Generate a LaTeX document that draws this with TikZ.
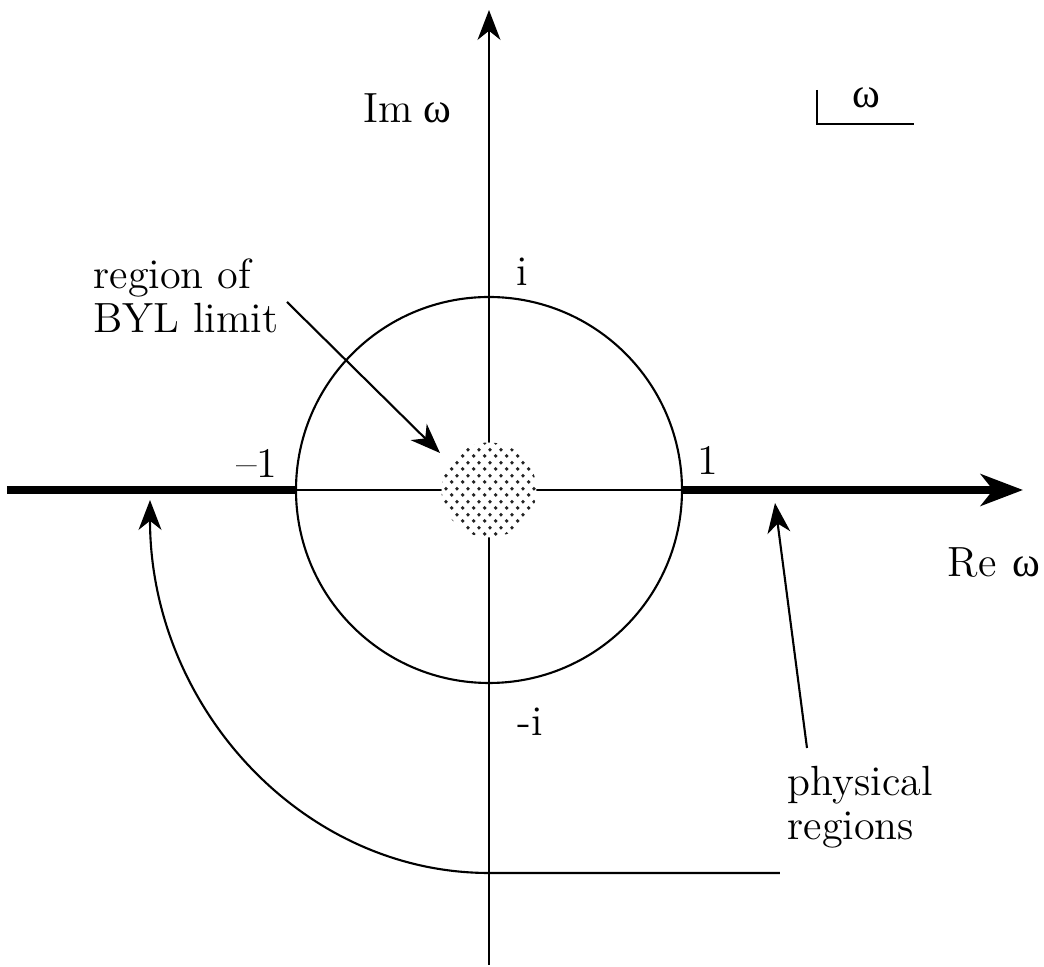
\documentclass[tikz,border=0pt]{standalone}
\usepackage{fontspec}
\newfontfamily\grk{Liberation Serif}
\usetikzlibrary{arrows.meta, patterns}
\definecolor{DG}{RGB}{35,35,35}
% loose dot screen for the BYL disk
\pgfdeclarepatternformonly{bylscreen}{\pgfpointorigin}{\pgfqpoint{3.2pt}{3.6pt}}{\pgfqpoint{3.2pt}{3.6pt}}{%
  \pgfpathcircle{\pgfqpoint{0.8pt}{0.9pt}}{0.58pt}%
  \pgfpathcircle{\pgfqpoint{2.4pt}{2.7pt}}{0.58pt}%
  \pgfusepath{fill}}

\begin{document}
\begin{tikzpicture}[x=0.01cm, y=-0.01cm,
  lbl/.style={inner sep=0pt, font=\fontsize{12}{12.5}\selectfont},
  thinln/.style={line width=0.6pt},
  thickax/.style={line width=2.1pt},
  note/.style={line width=0.6pt, -{Stealth[length=8.5pt, width=6.5pt, inset=2.6pt]}},
  axtip/.style={-{Stealth[length=12pt, width=9pt, inset=3.5pt]}}
]
\useasboundingbox (0,0) rectangle (1044,967);

% Axes
\coordinate (O) at (489,490);
\coordinate (imtop) at (489,10);
\coordinate (imbot) at (489,965);
\coordinate (releft) at (7,490);
\coordinate (reright) at (1023,490);
\coordinate (mone) at (296,490);
\coordinate (pone) at (682,490);
\draw[note] (imbot) -- (imtop);
\draw[thinln] (mone) -- (pone);
\draw[thickax] (releft) -- (mone);
\draw[thickax, axtip] (pone) -- (reright);

% Unit circle and the BYL region
\draw[thinln] (O) circle[radius=193];
\path[fill=white] (O) circle[radius=47.5];
\path[pattern=bylscreen, pattern color=DG] (O) circle[radius=47.5];

% Axis labels
\node[lbl, anchor=base west] (imlbl) at (363,123) {Im\hspace{3pt}{\grk ω}};
\node[lbl, anchor=base west] (relbl) at (947,577) {Re\hspace{4.5pt}{\grk ω}};
\node[lbl] (ilbl) at (522,272) {i};
\node[lbl] (milbl) at (530,722) {-i};
\node[lbl] (monelbl) at (257,463) {--1};
\node[lbl] (ponelbl) at (708,460) {1};

% Plane marker
\node[lbl, anchor=base west] (wlbl) at (852,108) {{\grk ω}};
\coordinate (wtop) at (817,90);
\coordinate (wcorner) at (817,124);
\coordinate (wend) at (914,124);
\draw[thinln] (wtop) -- (wcorner) -- (wend);

% Annotations
\node[lbl, anchor=north west, align=left] (byl) at (93,258) {region of\\BYL limit};
\node[lbl, anchor=north west, align=left] (phys) at (787,766) {physical\\regions};
\coordinate (bylfoot) at (287,302);
\coordinate (byltip) at (440,453);
\draw[note] (bylfoot) -- (byltip);
\coordinate (physfoot) at (807,748);
\coordinate (phystip) at (775,503);
\draw[note] (physfoot) -- (phystip);
\coordinate (hookend) at (780,873);
\coordinate (hookmid) at (489,873);
\draw[note] (hookend) -- (hookmid)
  arc[start angle=90, end angle=180, x radius=339, y radius=373];
\end{tikzpicture}
\end{document}
